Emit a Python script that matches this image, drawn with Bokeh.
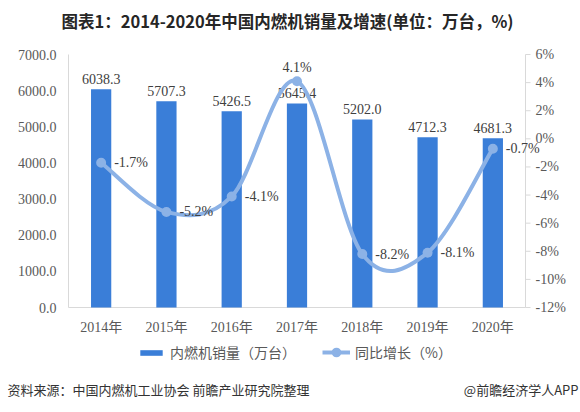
import numpy as np
from bokeh.plotting import figure
from bokeh.models import ColumnDataSource, Range1d, Legend, LegendItem
from bokeh.core.properties import value
from bokeh.embed import file_html
from bokeh.resources import INLINE

# ---- data ----
years = ["2014年", "2015年", "2016年", "2017年", "2018年", "2019年", "2020年"]
sales = [6038.3, 5707.3, 5426.5, 5645.4, 5202.0, 4712.3, 4681.3]   # 万台
growth = [-1.7, -5.2, -4.1, 4.1, -8.2, -8.1, -0.7]                 # %
sales_ticks = [0, 1000, 2000, 3000, 4000, 5000, 6000, 7000]
growth_ticks = [-12, -10, -8, -6, -4, -2, 0, 2, 4, 6]

title_text = "图表1：2014-2020年中国内燃机销量及增速(单位：万台，%)"
source_text = "资料来源：中国内燃机工业协会 前瞻产业研究院整理"
brand_text = "@前瞻经济学人APP"
bar_name = "内燃机销量（万台）"
line_name = "同比增长（%）"

# ---- style ----
BAR_COLOR = "#3a7ed8"
LINE_COLOR = "#8cb2e6"
AXIS_LINE = "#d9d9d9"
AXIS_TEXT = "#595959"
LABEL_TEXT = "#404040"
SERIF = "'Liberation Serif', 'Noto Sans CJK SC', serif"
SANS = "'Noto Sans CJK SC', sans-serif"

# ---- page geometry (pixels) ----
W, H = 580, 412
PLOT_L, PLOT_R = 68, 525          # left / right axis lines
PLOT_T, PLOT_B = 54, 307          # top tick line / baseline
n = len(years)
x_per_px = n / (PLOT_R - PLOT_L)
y_lo, y_hi = sales_ticks[0], sales_ticks[-1]
g_lo, g_hi = growth_ticks[0], growth_ticks[-1]
sy = (y_hi - y_lo) / (PLOT_B - PLOT_T)
sg = (g_hi - g_lo) / (PLOT_B - PLOT_T)

# the frame fills the page; the scales put the axes at the pixel bounds above
p = figure(width=W, height=H, output_backend="svg", toolbar_location=None,
           x_range=Range1d(-PLOT_L * x_per_px, (W - PLOT_L) * x_per_px),
           y_range=Range1d(y_lo - (H - PLOT_B) * sy, y_lo + PLOT_B * sy),
           min_border=0, outline_line_color=None,
           x_axis_type=None, y_axis_type=None)
p.extra_y_ranges = {"pct": Range1d(g_lo - (H - PLOT_B) * sg, g_lo + PLOT_B * sg),
                    "page": Range1d(H, 0)}
p.extra_x_ranges = {"page": Range1d(0, W)}
p.grid.visible = False

xs = np.arange(n) + 0.5

# ---- axes ----
# axis lines: left, bottom, right
p.segment(x0=[0, 0], y0=[y_lo, y_lo], x1=[0, n], y1=[y_hi, y_lo],
          line_color=AXIS_LINE, line_width=1)
p.segment(x0=[n], y0=[g_lo], x1=[n], y1=[g_hi], line_color=AXIS_LINE,
          line_width=1, y_range_name="pct")

# left axis labels (sales)
lsrc_ax = ColumnDataSource(dict(x=[0] * len(sales_ticks), y=sales_ticks,
                                lab=[f"{t:.1f}" for t in sales_ticks]))
p.text(x="x", y="y", text="lab", source=lsrc_ax, x_offset=-12,
       text_align="right", text_baseline="middle",
       text_font=value(SERIF), text_font_size="14px", text_color=AXIS_TEXT)

# bottom axis labels (years)
xsrc_ax = ColumnDataSource(dict(x=xs, y=[y_lo] * n, lab=years))
p.text(x="x", y="y", text="lab", source=xsrc_ax, y_offset=20,
       text_align="center", text_baseline="middle",
       text_font=value(SERIF), text_font_size="14px", text_color=AXIS_TEXT)

# right axis: outward ticks + labels (growth %)
tsrc = ColumnDataSource(dict(x0=[n] * len(growth_ticks), y=growth_ticks,
                             x1=[n + 5 * x_per_px] * len(growth_ticks),
                             lab=[f"{t}%" for t in growth_ticks]))
p.segment(x0="x0", y0="y", x1="x1", y1="y", source=tsrc,
          line_color=AXIS_LINE, line_width=1, y_range_name="pct")
p.text(x="x0", y="y", text="lab", source=tsrc, x_offset=10,
       text_align="left", text_baseline="middle", y_range_name="pct",
       text_font=value(SERIF), text_font_size="14px", text_color=AXIS_TEXT)

# ---- bars with value labels ----
bsrc = ColumnDataSource(dict(x=xs, top=sales, lab=[f"{v:.1f}" for v in sales]))
bars = p.vbar(x="x", top="top", bottom=y_lo, width=0.31, source=bsrc,
              fill_color=BAR_COLOR, line_color=None)
p.text(x="x", y="top", text="lab", source=bsrc, text_align="center",
       text_baseline="bottom", y_offset=-5, text_font=value(SERIF),
       text_font_size="14px", text_color=LABEL_TEXT)

# ---- smoothed growth line: Catmull-Rom segments drawn as cubic beziers ----
g = np.array(growth, dtype=float)
px = np.concatenate([[xs[0]], xs, [xs[-1]]])
py = np.concatenate([[g[0]], g, [g[-1]]])
k = 1.0 / 6.0
seg = dict(x0=[], y0=[], x1=[], y1=[], cx0=[], cy0=[], cx1=[], cy1=[])
for i in range(1, len(px) - 2):
    seg["x0"].append(px[i]); seg["y0"].append(py[i])
    seg["x1"].append(px[i + 1]); seg["y1"].append(py[i + 1])
    seg["cx0"].append(px[i] + (px[i + 1] - px[i - 1]) * k)
    seg["cy0"].append(py[i] + (py[i + 1] - py[i - 1]) * k)
    seg["cx1"].append(px[i + 1] - (px[i + 2] - px[i]) * k)
    seg["cy1"].append(py[i + 1] - (py[i + 2] - py[i]) * k)
p.bezier(x0="x0", y0="y0", x1="x1", y1="y1", cx0="cx0", cy0="cy0",
         cx1="cx1", cy1="cy1", source=ColumnDataSource(seg),
         line_color=LINE_COLOR, line_width=4, y_range_name="pct")

gsrc = ColumnDataSource(dict(x=xs, y=growth))
dots = p.scatter(x="x", y="y", source=gsrc, size=10, fill_color=LINE_COLOR,
                 line_color=None, y_range_name="pct")

# growth labels: the peak is labelled above its point, the rest to the right
peak = int(np.argmax(growth))
side = [i for i in range(n) if i != peak]
rsrc = ColumnDataSource(dict(x=xs[side], y=[growth[i] for i in side],
                             lab=[f"{growth[i]:.1f}%" for i in side]))
asrc = ColumnDataSource(dict(x=[xs[peak]], y=[growth[peak]],
                             lab=[f"{growth[peak]:.1f}%"]))
p.text(x="x", y="y", text="lab", source=rsrc, text_align="left",
       text_baseline="middle", x_offset=13, y_range_name="pct",
       text_font=value(SERIF), text_font_size="14px", text_color=LABEL_TEXT)
p.text(x="x", y="y", text="lab", source=asrc, text_align="center",
       text_baseline="bottom", y_offset=-6, y_range_name="pct",
       text_font=value(SERIF), text_font_size="14px", text_color=LABEL_TEXT)

# ---- legend: two boxes so the bar swatch stays flat while the line swatch
# ---- is tall enough to show its marker
swatch_line = p.line(x=[np.nan], y=[np.nan], line_color=LINE_COLOR,
                     line_width=4, y_range_name="pct")
LEG_CY = 352
legend_style = dict(orientation="horizontal", glyph_width=28, label_height=20,
                    label_standoff=5, padding=0, margin=0,
                    border_line_color=None, background_fill_alpha=0,
                    label_text_font=SANS, label_text_font_size="14px",
                    label_text_color=AXIS_TEXT)
bar_legend = Legend(items=[LegendItem(label=bar_name, renderers=[bars])],
                    location=(137, H - LEG_CY - 10), glyph_height=7,
                    **legend_style)
line_legend = Legend(items=[LegendItem(label=line_name,
                                       renderers=[swatch_line, dots])],
                     location=(322, H - LEG_CY - 12), glyph_height=24,
                     **legend_style)
p.add_layout(bar_legend, "center")
p.add_layout(line_legend, "center")


# ---- title and footer, placed in page pixels ----
def put_text(x, y, txt, align, size, style, color):
    p.text(x=[x], y=[y], text=[txt], text_align=align, text_baseline="middle",
           x_range_name="page", y_range_name="page",
           text_font=value(SANS), text_font_size=size,
           text_font_style=style, text_color=color)


put_text(287, 20, title_text, "center", "16.5px", "bold", "#262626")
put_text(7, 389, source_text, "left", "13px", "normal", "#333333")
put_text(578, 389, brand_text, "right", "13px", "normal", "#333333")

open("out.html", "w").write(file_html(p, INLINE))
